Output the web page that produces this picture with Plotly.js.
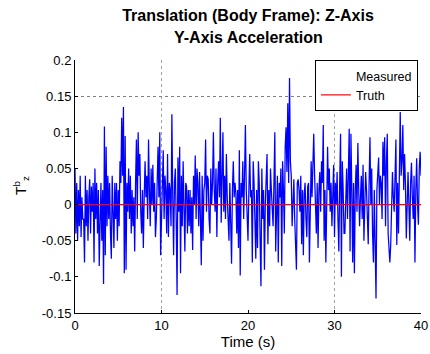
<!DOCTYPE html>
<html><head><meta charset="utf-8">
<script src="https://cdn.plot.ly/plotly-3.0.1.min.js"></script>
<style>html,body{margin:0;padding:0;background:#fff}</style>
</head><body><div id="chart" style="width:430px;height:354px"></div>
<script>
const measured0to10 = [
 .05,-.04,.03,-.05,.02,-.03,.04,-.045,.01,-.02,
 -.02,-.08,.04,-.03,.02,-.05,.01,.035,-.04,.025,
 -.01,.03,-.08,.05,-.02,.03,-.04,.02,-.085,.01,
 .03,-.05,.02,-.11,.108,-.07,.08,-.03,.04,-.02,
 .03,-.04,-.075,.04,.005,-.06,.03,-.02,.03,-.05,
 .02,-.03,.06,.03,.12,.04,.135,-.095,.095,-.09,
 .03,-.01,.05,-.02,.04,-.04,.02,-.03,.01,-.065,
 .03,.09,-.02,.1,.04,.07,-.01,-.04,.02,-.06,
 .01,.06,.01,.04,-.02,.09,.02,-.03,.05,0,
 .055,-.01,.03,-.045,-.02,.04,.08,.01,.1,-.07];
const measured10to20 = [
 -.02,.05,.075,-.02,.04,.02,-.04,.07,-.045,.03,
 .02,-.03,.125,.01,-.07,.03,.05,-.02,-.125,.065,
 -.01,.08,-.095,.04,-.03,.06,.01,-.065,.03,.025,
 -.04,.02,-.03,.02,-.04,.01,-.063,.04,0,.068,
 -.02,.05,.03,-.03,.045,-.025,-.084,.04,-.05,.02,
 .03,.09,-.01,.04,.035,-.02,-.04,.05,0,.03,
 .1,.02,-.01,.05,-.045,.03,.06,.01,.12,-.025,
 .06,.1,-.01,.04,-.02,.07,.01,-.03,-.05,.03,
 -.02,-.082,.02,.06,.01,.03,.015,-.04,.02,-.06,
 .075,-.098,.03,.01,.06,-.02,.04,.11,.02,-.03];
const measured20to30 = [
 -.05,.02,.07,.01,.02,-.08,.06,.03,-.02,-.075,
 .02,-.06,.06,.03,-.05,-.113,.05,-.02,.02,-.09,
 0,.035,.07,-.055,.02,-.03,.05,.02,-.01,-.03,
 .03,.1,-.065,.02,.04,-.08,.03,.01,.05,-.085,
 .06,.02,-.04,.08,.107,.045,.14,.03,.175,.06,
 .04,-.03,.01,.035,-.02,-.075,-.09,.03,.035,.02,
 -.01,.04,-.055,.02,-.07,.015,.03,-.02,-.045,.025,
 .03,-.08,.04,.06,.01,.05,.098,.04,-.02,-.04,
 .03,-.06,.02,.045,-.01,.06,.03,.11,-.05,.02,
 -.08,.01,.08,.02,.05,-.01,.03,-.03,.02,.055];
const measured30to40 = [
 -.045,.03,0,.045,-.02,-.065,.03,.098,-.1,.06,
 .02,-.04,-.04,.01,.05,-.02,.03,.105,-.065,.098,
 .02,-.08,.03,-.095,.02,.055,-.01,.085,.02,-.03,
 .01,.04,-.02,.055,-.05,.01,.045,.02,-.02,-.055,
 .03,.093,0,.05,-.04,-.08,.02,-.1,-.13,.02,
 .05,.065,0,.04,.03,-.02,.087,.04,.093,-.03,
 .06,.098,-.04,-.065,-.08,-.055,.02,.045,.01,-.01,
 .04,.09,-.056,.03,-.04,.07,.128,.04,.06,.11,
 .02,.07,.03,-.047,.01,.045,0,-.05,.03,.058,
 .01,-.02,.04,-.08,.02,.064,0,-.028,.05,.073,
 .04];
const sampleStart = 0;     // s
const sampleStep = 0.1;    // s
const truthTime = [0, 40];
const truthValue = [0, 0];
const seriesNames = ['Measured', 'Truth'];
const xTickVals = [0, 10, 20, 30, 40];
const xTickText = ['0', '10', '20', '30', '40'];
const yTickVals = [-0.15, -0.1, -0.05, 0, 0.05, 0.1, 0.15, 0.2];
const yTickText = ['-0.15', '-0.1', '-0.05', '0', '0.05', '0.1', '0.15', '0.2'];
const xGridVals = [10, 30, 40];
const yGridVals = [0.15];
const titleLine1 = 'Translation (Body Frame): Z-Axis';
const titleLine2 = 'Y-Axis Acceleration';
const xTitle = 'Time (s)';
const yTitle = 'T<sup>b</sup><sub>z</sub>';

const measured = measured0to10.concat(measured10to20, measured20to30, measured30to40);
const FONT = 'Liberation Sans, Arial, Helvetica, sans-serif';

const traces = [
  {type: 'scatter', mode: 'lines', x0: sampleStart, dx: sampleStep, y: measured,
   line: {color: '#0000ff', width: 1.25}, showlegend: false, hoverinfo: 'skip'},
  {type: 'scatter', mode: 'lines', x: truthTime, y: truthValue,
   line: {color: '#ff0000', width: 1.2}, showlegend: false, hoverinfo: 'skip'},
  // legend entries (Measured sample is blank in the reference)
  {type: 'scatter', mode: 'lines', x: [null], y: [null], name: seriesNames[0],
   line: {color: 'rgba(255,255,255,0)', width: 1}},
  {type: 'scatter', mode: 'lines', x: [null], y: [null], name: seriesNames[1],
   line: {color: '#ff0000', width: 1.2}}
];

const layout = {
  width: 430, height: 354,
  margin: {l: 75, r: 9, t: 60, b: 41, pad: 0},
  paper_bgcolor: '#ffffff', plot_bgcolor: '#ffffff',
  font: {family: FONT, size: 13, color: '#000'},
  showlegend: true,
  legend: {x: 0.991, y: 1, xanchor: 'right', yanchor: 'top',
           bgcolor: '#ffffff', bordercolor: '#000', borderwidth: 1,
           font: {family: FONT, size: 12.5, color: '#000'}, tracegroupgap: 0},
  title: {text: titleLine1, x: 0.5, xref: 'paper', y: 1 - 15/354, yref: 'container',
          yanchor: 'middle', font: {family: FONT, size: 16, weight: 700, color: '#000'}},
  annotations: [
    {text: titleLine2, xref: 'paper', yref: 'paper', x: 0.5, y: 1 + (60 - 37.5)/253,
     xanchor: 'center', yanchor: 'middle', showarrow: false,
     font: {family: FONT, size: 16, weight: 700, color: '#000'}},
    {text: yTitle, xref: 'paper', yref: 'paper', x: (21 - 75)/346, y: 0.5 - (186 - 186.5)/253,
     xanchor: 'center', yanchor: 'middle', showarrow: false, textangle: -90,
     font: {family: FONT, size: 14, color: '#000'}}
  ],
  xaxis: {range: [0, 40], tickmode: 'array', tickvals: xTickVals, ticktext: xTickText,
          showgrid: false, zeroline: false, showline: true, linecolor: '#000', linewidth: 1,
          ticks: 'inside', ticklen: 3, tickcolor: '#000', mirror: false,
          tickfont: {family: FONT, size: 13, color: '#000'},
          title: {text: xTitle, standoff: 4, font: {family: FONT, size: 15, color: '#000'}},
          minor: {tickmode: 'array', tickvals: xGridVals, showgrid: true, gridcolor: '#a0a0a0',
                  griddash: 'dot', gridwidth: 1, ticks: ''}},
  yaxis: {range: [-0.15, 0.2], tickmode: 'array', tickvals: yTickVals, ticktext: yTickText,
          showgrid: false, zeroline: false, showline: true, linecolor: '#000', linewidth: 1,
          ticks: 'inside', ticklen: 3, tickcolor: '#000', mirror: false,
          tickfont: {family: FONT, size: 13, color: '#000'},
          minor: {tickmode: 'array', tickvals: yGridVals, showgrid: true, gridcolor: '#808080',
                  griddash: 'dot', gridwidth: 1, ticks: ''}}
};

Plotly.newPlot('chart', traces, layout, {displayModeBar: false, staticPlot: true});
</script>
</body></html>
